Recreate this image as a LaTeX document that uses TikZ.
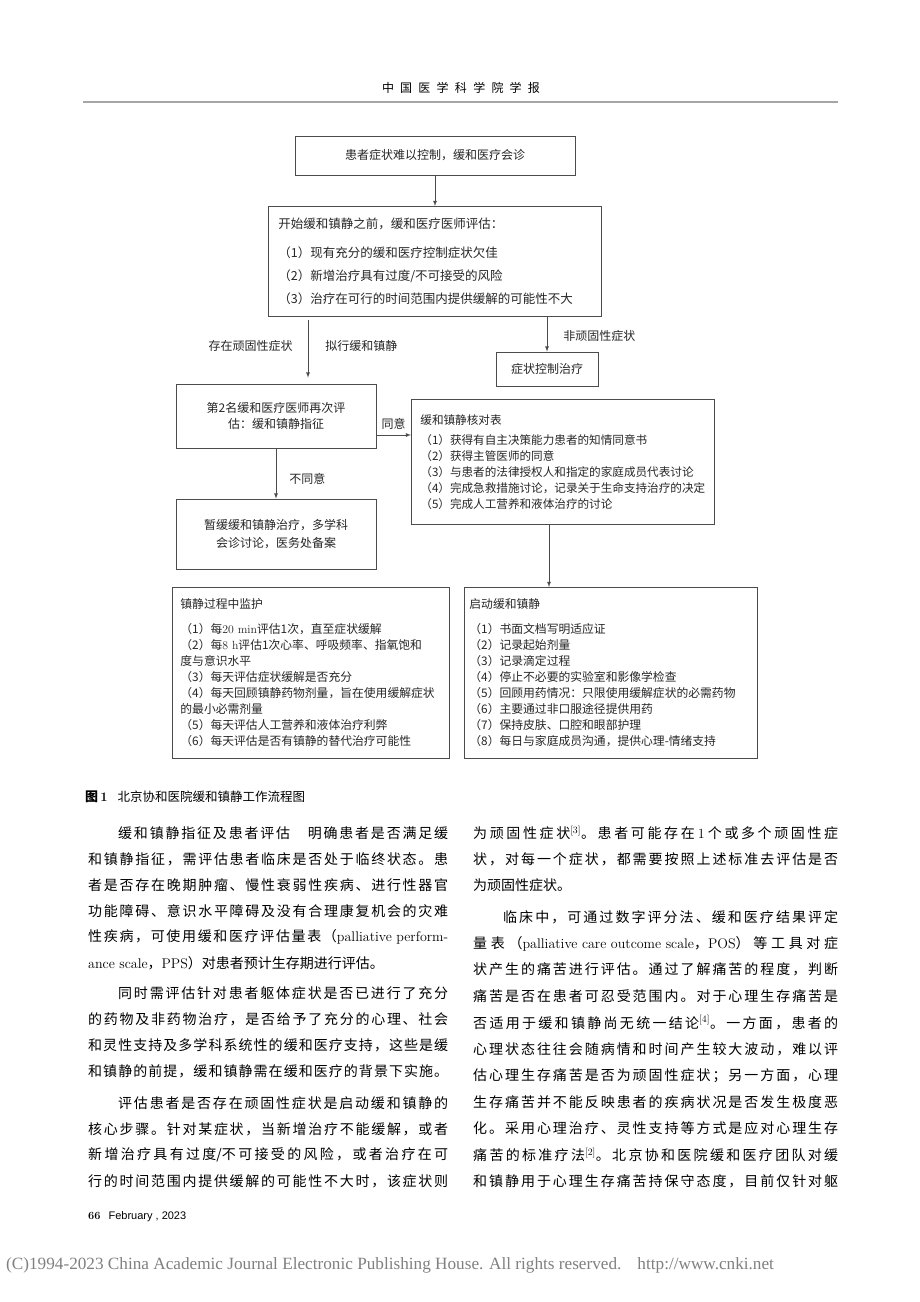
\documentclass[tikz,border=0pt]{standalone}
\usepackage{fontspec}
\newfontfamily\cjk{Noto Sans CJK SC}
\newfontfamily\sansfont{Liberation Sans}
\newfontfamily\markfont{Liberation Serif}
\definecolor{boxgray}{gray}{0.3}
\definecolor{rulegray}{gray}{0.65}

% glue between CJK characters, used only in justified lines
\newcount\cjkcc
\cjkcc="3000
\loop\XeTeXcharclass\cjkcc=1 \advance\cjkcc by 1 \ifnum\cjkcc<"A000 \repeat
\cjkcc="FF00
\loop\XeTeXcharclass\cjkcc=1 \advance\cjkcc by 1 \ifnum\cjkcc<"FFF0 \repeat
\XeTeXinterchartoks 1 1 = {\hskip 0pt plus 1fil\relax}
\newcommand\jline[2]{\makebox[#1][s]{\XeTeXinterchartokenstate=1 #2}}

\tikzstyle{flowbox} = [
 rectangle,
 draw=boxgray,
 line width=0.8pt,
 inner sep=0pt,
 align=center,
 text=black!85,
 font=\cjk\fontsize{12}{16}\selectfont
]
\tikzstyle{listbox} = [
 flowbox,
 anchor=north west,
 align=left
]
\tikzstyle{flowarrow} = [
 draw=boxgray,
 line width=0.8pt,
 -latex
]
\tikzstyle{edgetext} = [
 inner sep=0pt,
 text=black!85,
 font=\cjk\fontsize{12}{15}\selectfont
]
\tikzstyle{bodyline} = [
 anchor=west,
 inner sep=0pt,
 font=\cjk\fontsize{14}{14}\selectfont
]

\begin{document}
\begin{tikzpicture}[x=1pt, y=-1pt]
\useasboundingbox (0,0) rectangle (920,1302);
\fill[white] (0,0) rectangle (920,1302);

% running head
\node[inner sep=0pt, font=\cjk\fontsize{12}{12}\selectfont] (journal) at (461,88) {\jline{158pt}{中国医学科学院学报}};
\draw[rulegray, line width=1.6pt] (83,102) -- (838,102);

% flow chart
\node[flowbox, minimum width=280, minimum height=39] (consult) at (435,155.5) {患者症状难以控制，缓和医疗会诊};
\node[listbox, inner xsep=10, text width=313, minimum height=110,
  font=\cjk\fontsize{12.5}{23}\selectfont] (assess) at (268,206)
  {开始缓和镇静之前，缓和医疗医师评估：\\[6pt]
   （1）现有充分的缓和医疗控制症状欠佳\\
   （2）新增治疗具有过度/不可接受的风险\\
   （3）治疗在可行的时间范围内提供缓解的可能性不大};
\node[flowbox, minimum width=102, minimum height=34] (control) at (547,369) {症状控制治疗};
\node[flowbox, minimum width=200, minimum height=64] (second) at (276,416)
  {第2名缓和医疗医师再次评\\估：缓和镇静指征};
\node[listbox, inner xsep=9, text width=285, minimum height=125,
  font=\cjk\fontsize{11.6}{16}\selectfont] (checklist) at (411,399)
  {缓和镇静核对表\\[4pt]
   （1）获得有自主决策能力患者的知情同意书\\
   （2）获得主管医师的同意\\
   （3）与患者的法律授权人和指定的家庭成员代表讨论\\
   （4）完成急救措施讨论，记录关于生命支持治疗的决定\\
   （5）完成人工营养和液体治疗的讨论};
\node[flowbox, minimum width=200, minimum height=70,
  font=\cjk\fontsize{12}{18}\selectfont] (defer) at (276,534)
  {暂缓缓和镇静治疗，多学科\\会诊讨论，医务处备案};
\node[listbox, inner xsep=8, text width=261, minimum height=171,
  font=\cjk\fontsize{11.8}{16}\selectfont] (monitor) at (172,587)
  {镇静过程中监护\\[9pt]
   （1）每\textrm{20 min}评估1次，直至症状缓解\\
   （2）每\textrm{8 h}评估1次心率、呼吸频率、指氧饱和\\
   度与意识水平\\
   （3）每天评估症状缓解是否充分\\
   （4）每天回顾镇静药物剂量，旨在使用缓解症状\\
   的最小必需剂量\\
   （5）每天评估人工营养和液体治疗利弊\\
   （6）每天评估是否有镇静的替代治疗可能性};
\node[listbox, inner xsep=5, text width=283, minimum height=171,
  font=\cjk\fontsize{11.8}{16}\selectfont] (start) at (464,587)
  {启动缓和镇静\\[9pt]
   （1）书面文档写明适应证\\
   （2）记录起始剂量\\
   （3）记录滴定过程\\
   （4）停止不必要的实验室和影像学检查\\
   （5）回顾用药情况：只限使用缓解症状的必需药物\\
   （6）主要通过非口服途径提供用药\\
   （7）保持皮肤、口腔和眼部护理\\
   （8）每日与家庭成员沟通，提供心理-情绪支持};

% connectors
\coordinate (split) at (308,316);
\coordinate (agree) at (376,435);
\coordinate (go) at (549,524);
\draw[flowarrow] (consult.south) -- (consult.south |- assess.north);
\draw[flowarrow, shorten <=4pt, shorten >=6pt] (split) -- node[edgetext, pos=0.45, left=15pt] (refractory) {存在顽固性症状}
  node[edgetext, pos=0.45, right=17pt] (intend) {拟行缓和镇静} (split |- second.north);
\draw[flowarrow] (assess.south -| control.north) -- node[edgetext, pos=0.55, right=16pt] (nonref) {非顽固性症状} (control.north);
\draw[flowarrow] (agree) -- node[edgetext, above=5pt] (yes) {同意} (agree -| checklist.west);
\draw[flowarrow] (second.south) -- node[edgetext, pos=0.6, right=13pt] (no) {不同意} (defer.north);
\draw[flowarrow] (go) -- (go |- start.north);

% caption
\node[anchor=west, inner sep=0pt, font=\fontsize{13}{13}\selectfont] (caption) at (85,797)
  {\textbf{\cjk 图}\,\textbf{1}\hspace{10pt}{\cjk\fontsize{12.5}{12.5}\selectfont 北京协和医院缓和镇静工作流程图}};

% left column
\node[bodyline] (l1) at (118,833) {\jline{330pt}{缓和镇静指征及患者评估　明确患者是否满足缓}};
\node[bodyline] (l2) at (88,859) {\jline{360pt}{和镇静指征，需评估患者临床是否处于临终状态。患}};
\node[bodyline] (l3) at (88,885) {\jline{360pt}{者是否存在晚期肿瘤、慢性衰弱性疾病、进行性器官}};
\node[bodyline] (l4) at (88,911) {\jline{360pt}{功能障碍、意识水平障碍及没有合理康复机会的灾难}};
\node[bodyline] (l5) at (88,937) {\jline{360pt}{性疾病，可使用缓和医疗评估量表（\textrm{palliative perform-}}};
\node[bodyline] (l6) at (88,963) {\textrm{ance scale}，\textrm{PPS}）对患者预计生存期进行评估。};
\node[bodyline] (l7) at (118,993) {\jline{330pt}{同时需评估针对患者躯体症状是否已进行了充分}};
\node[bodyline] (l8) at (88,1019) {\jline{360pt}{的药物及非药物治疗，是否给予了充分的心理、社会}};
\node[bodyline] (l9) at (88,1045) {\jline{360pt}{和灵性支持及多学科系统性的缓和医疗支持，这些是缓}};
\node[bodyline] (l10) at (88,1071) {\jline{360pt}{和镇静的前提，缓和镇静需在缓和医疗的背景下实施。}};
\node[bodyline] (l11) at (118,1103) {\jline{330pt}{评估患者是否存在顽固性症状是启动缓和镇静的}};
\node[bodyline] (l12) at (88,1129) {\jline{360pt}{核心步骤。针对某症状，当新增治疗不能缓解，或者}};
\node[bodyline] (l13) at (88,1155) {\jline{360pt}{新增治疗具有过度/不可接受的风险，或者治疗在可}};
\node[bodyline] (l14) at (88,1181) {\jline{360pt}{行的时间范围内提供缓解的可能性不大时，该症状则}};

% right column
\node[bodyline] (r1) at (473,833) {\jline{365pt}{为顽固性症状\textsuperscript{\textrm{[3]}}。患者可能存在 \textrm{1} 个或多个顽固性症}};
\node[bodyline] (r2) at (473,859) {\jline{365pt}{状，对每一个症状，都需要按照上述标准去评估是否}};
\node[bodyline] (r3) at (473,885) {为顽固性症状。};
\node[bodyline] (r4) at (503,917) {\jline{335pt}{临床中，可通过数字评分法、缓和医疗结果评定}};
\node[bodyline] (r5) at (473,943.4) {\jline{365pt}{量表（\textrm{palliative care outcome scale}，\textrm{POS}）等工具对症}};
\node[bodyline] (r6) at (473,969.8) {\jline{365pt}{状产生的痛苦进行评估。通过了解痛苦的程度，判断}};
\node[bodyline] (r7) at (473,996.2) {\jline{365pt}{痛苦是否在患者可忍受范围内。对于心理生存痛苦是}};
\node[bodyline] (r8) at (473,1022.6) {\jline{365pt}{否适用于缓和镇静尚无统一结论\textsuperscript{\textrm{[4]}}。一方面，患者的}};
\node[bodyline] (r9) at (473,1049) {\jline{365pt}{心理状态往往会随病情和时间产生较大波动，难以评}};
\node[bodyline] (r10) at (473,1075.4) {\jline{365pt}{估心理生存痛苦是否为顽固性症状；另一方面，心理}};
\node[bodyline] (r11) at (473,1101.8) {\jline{365pt}{生存痛苦并不能反映患者的疾病状况是否发生极度恶}};
\node[bodyline] (r12) at (473,1128.2) {\jline{365pt}{化。采用心理治疗、灵性支持等方式是应对心理生存}};
\node[bodyline] (r13) at (473,1154.6) {\jline{365pt}{痛苦的标准疗法\textsuperscript{\textrm{[2]}}。北京协和医院缓和医疗团队对缓}};
\node[bodyline] (r14) at (473,1181) {\jline{365pt}{和镇静用于心理生存痛苦持保守态度，目前仅针对躯}};

% foot line and notice
\node[anchor=west, inner sep=0pt, font=\fontsize{11}{11}\selectfont] (page) at (88,1217)
  {\textbf{66}\hspace{8pt}{\sansfont February , 2023}};
\node[anchor=west, inner sep=0pt, text=black!50, font=\markfont\fontsize{17.2}{17.2}\selectfont] (notice) at (6,1265)
  {(C)1994-2023 China Academic Journal Electronic Publishing House. All rights reserved.\hspace{16pt}http://www.cnki.net};
\end{tikzpicture}
\end{document}
